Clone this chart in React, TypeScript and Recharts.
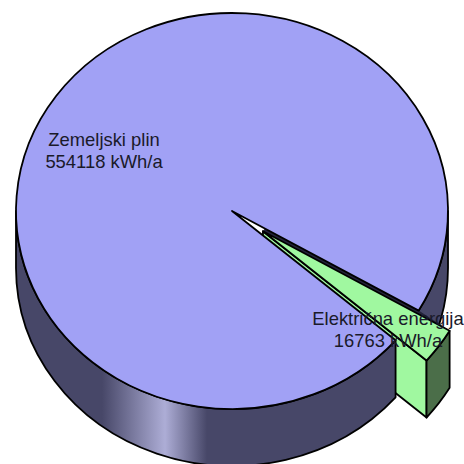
import { PieChart, Pie } from 'recharts';

const categories = ['Električna energija', 'Zemeljski plin'];
const energyValues = [16763, 554118];
const unit = 'kWh/a';

const data = categories.map((name, i) => ({ name, value: energyValues[i] }));

// the flat recharts circle is squashed and extruded in the sector shape
const RATIO = 198 / 216;
const DEPTH = 57;
const EXPLODE = 38;
const STROKE = { stroke: '#000', strokeWidth: 1.8, strokeLinejoin: 'round' as const };
const labelOffsets = [
  { x: 156, y: 114 },
  { x: -128, y: -65 },
];

const rad = (a: number) => (a * Math.PI) / 180;

function geometry(cx: number, cy: number, r: number) {
  const pt = (a: number, radius = r) => ({
    x: cx + radius * Math.cos(rad(a)),
    y: cy - radius * RATIO * Math.sin(rad(a)),
  });
  // a1 > a2, clockwise on screen
  const arc = (a1: number, a2: number, dy = 0, back = false) => {
    const p = pt(back ? a1 : a2);
    const large = Math.abs(a1 - a2) > 180 ? 1 : 0;
    const sweep = back ? 0 : 1;
    return `A${r} ${r * RATIO} 0 ${large} ${sweep} ${p.x} ${p.y + dy}`;
  };
  const wall = (a1: number, a2: number) => {
    const s = pt(a1);
    const e = pt(a2);
    return `M${s.x} ${s.y}${arc(a1, a2)}L${e.x} ${e.y + DEPTH}${arc(a1, a2, DEPTH, true)}Z`;
  };
  const top = (a1: number, a2: number) => {
    const s = pt(a1);
    return `M${cx} ${cy}L${s.x} ${s.y}${arc(a1, a2)}Z`;
  };
  return { pt, wall, top };
}

function Slab(props: any) {
  const { cx, cy, outerRadius, startAngle, endAngle, name } = props;

  if (name === categories[0]) {
    const mid = (startAngle + endAngle) / 2;
    const ox = cx + EXPLODE * Math.cos(rad(mid));
    const oy = cy - EXPLODE * RATIO * Math.sin(rad(mid));
    const main = geometry(cx, cy, outerRadius);
    const g = geometry(ox, oy, outerRadius);
    const low = g.pt(endAngle);
    // cut face of the big slice, seen in the gap above the wedge
    const cutA = main.pt(startAngle, EXPLODE);
    const cutB = main.pt(startAngle);
    const cutC = g.pt(startAngle);
    return (
      <g>
        {/* back part of the big slice wall has to sit behind the wedge */}
        <path d={main.wall(0, startAngle)} fill="#474768" {...STROKE} />
        <path d={`M${cutA.x} ${cutA.y}L${cutB.x} ${cutB.y}L${cutC.x} ${cutC.y}L${ox} ${oy}Z`} fill="#23233a" />
        <path
          d={`M${ox} ${oy}L${low.x} ${low.y}L${low.x} ${low.y + DEPTH}L${ox} ${oy + DEPTH}Z`}
          fill="#a0f8a0"
          {...STROKE}
        />
        <path d={g.wall(startAngle, endAngle)} fill="#4b6e49" {...STROKE} />
        <path d={g.top(startAngle, endAngle)} fill="#a0f8a0" {...STROKE} />
      </g>
    );
  }

  const main = geometry(cx, cy, outerRadius);
  return (
    <g>
      <defs>
        <linearGradient id="wallShine" gradientUnits="userSpaceOnUse" x1="102" y1="0" x2="207" y2="0">
          <stop offset="0" stopColor="#474768" />
          <stop offset="0.6" stopColor="#adadd6" />
          <stop offset="1" stopColor="#474768" />
        </linearGradient>
      </defs>
      <path d={main.wall(startAngle, -180)} fill="url(#wallShine)" {...STROKE} />
      <path d={main.top(startAngle, endAngle)} fill="#a1a1f5" {...STROKE} />
    </g>
  );
}

function SliceLabel(props: any) {
  const { cx, cy, index, name, value } = props;
  const off = labelOffsets[index];
  const x = cx + off.x;
  const y = cy + off.y;
  return (
    <text x={x} y={y} textAnchor="middle" fontFamily="Liberation Sans" fontSize={18.4} fill="#1a1a2a">
      <tspan x={x}>{name}</tspan>
      <tspan x={x} dy={22}>{`${value} ${unit}`}</tspan>
    </text>
  );
}

export default function App() {
  return (
    <div style={{ position: 'absolute', left: 0, top: 0, width: 464, height: 464, background: '#fff' }}>
      <PieChart width={464} height={464} margin={{ top: 0, right: 0, bottom: 0, left: 0 }}>
        <Pie
          data={data}
          dataKey="value"
          nameKey="name"
          cx={232}
          cy={211}
          innerRadius={0}
          outerRadius={216}
          startAngle={-30.2}
          endAngle={-390.2}
          paddingAngle={0}
          shape={Slab}
          label={SliceLabel}
          labelLine={false}
          rootTabIndex={-1}
          isAnimationActive={false}
        />
      </PieChart>
    </div>
  );
}
